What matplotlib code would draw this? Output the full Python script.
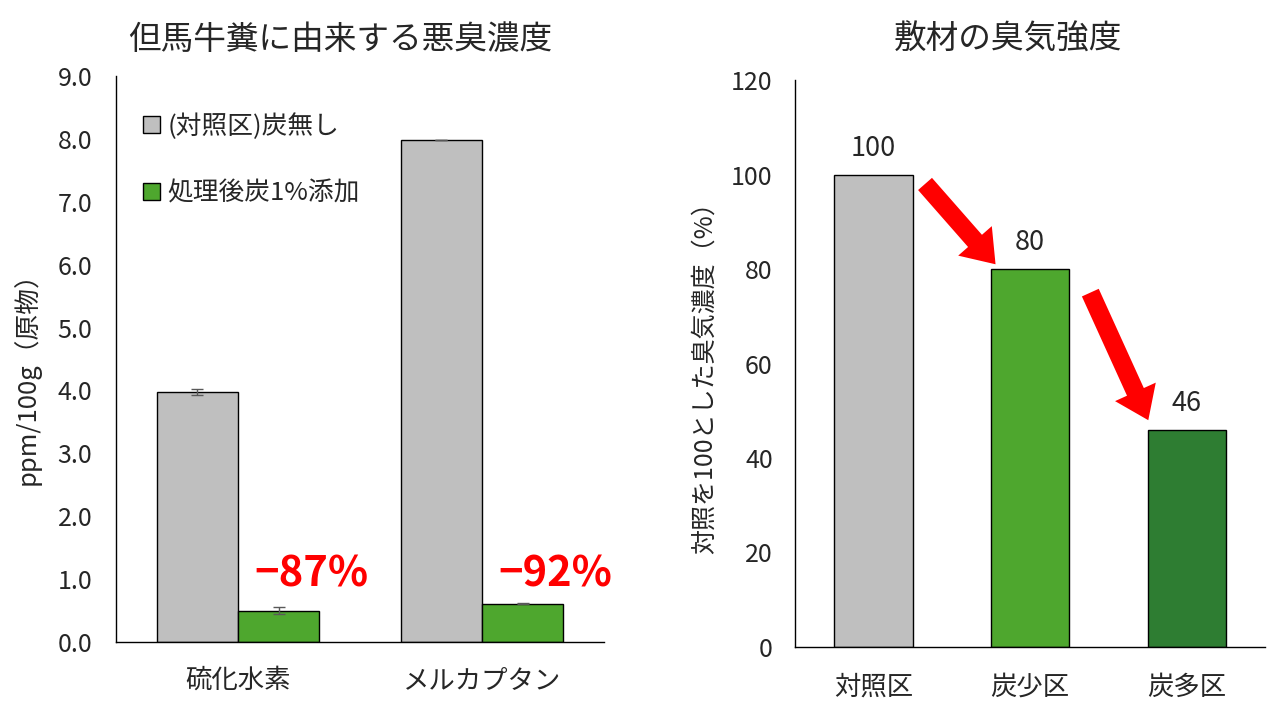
import matplotlib
matplotlib.use("Agg")
import matplotlib.pyplot as plt
from matplotlib.patches import FancyArrowPatch
import numpy as np

plt.rcParams['font.family'] = ['Noto Sans CJK JP', 'DejaVu Sans']

# ---- data: left chart ----
left_title = "但馬牛糞に由来する悪臭濃度"
left_categories = ["硫化水素", "メルカプタン"]
control_label = "(対照区)炭無し"
treated_label = "処理後炭1%添加"
control_values = [3.98, 7.98]
control_errors = [0.05, 0.005]
treated_values = [0.50, 0.61]
treated_errors = [0.05, 0.005]
reduction_labels = ["−87%", "−92%"]
left_ylabel = "ppm/100g（原物）"
left_yticks = [0, 1, 2, 3, 4, 5, 6, 7, 8, 9]

# ---- data: right chart ----
right_title = "敷材の臭気強度"
right_categories = ["対照区", "炭少区", "炭多区"]
right_values = [100, 80, 46]
right_ylabel = "対照を100とした臭気濃度（%）"
right_yticks = [0, 20, 40, 60, 80, 100, 120]

gray = "#BFBFBF"
green = "#4EA72E"
dark_green = "#2E7D32"
red = "#FF0000"
text_col = "#262626"

fig = plt.figure(figsize=(12.8, 7.2), dpi=100)

# ---------------- left axes ----------------
ax1 = fig.add_axes([116/1280, 1-642/720, (604-116)/1280, (642-76)/720])
x = np.arange(len(left_categories))
w = 1/3
ekw = dict(ecolor="#595959", elinewidth=1, capsize=4, capthick=1)
ax1.bar(x - w/2, control_values, w, color=gray, edgecolor="black", linewidth=1,
        yerr=control_errors, error_kw=ekw, label=control_label)
ax1.bar(x + w/2, treated_values, w, color=green, edgecolor="black", linewidth=1,
        yerr=treated_errors, error_kw=ekw, label=treated_label)
ax1.set_xlim(-0.5, len(left_categories) - 0.5)
ax1.set_ylim(0, 9)
ax1.set_yticks(left_yticks)
ax1.set_yticklabels([f"{v:.1f}" for v in left_yticks])
ax1.set_xticks(x)
ax1.set_xticklabels(left_categories)
ax1.tick_params(axis='y', length=0, pad=17, labelsize=18, colors=text_col)
ax1.tick_params(axis='x', length=0, pad=18, labelsize=19, colors=text_col)
for s in ["top", "right"]:
    ax1.spines[s].set_visible(False)
for s in ["left", "bottom"]:
    ax1.spines[s].set_color("black")
    ax1.spines[s].set_linewidth(1)
ax1.set_ylabel(left_ylabel, fontsize=18.5, color=text_col)
ax1.yaxis.set_label_coords(-0.155, 0.477)
for i, lab in enumerate(reduction_labels):
    ax1.text(x[i] + 0.30, 1.07, lab, color=red, fontsize=30, fontweight="bold",
             ha="center", va="center")
leg = ax1.legend(loc="upper left", bbox_to_anchor=(0.035, 0.953), frameon=False,
                 fontsize=18.5, handlelength=0.65, handleheight=0.65, handletextpad=0.3,
                 labelspacing=1.6, borderaxespad=0)
for t in leg.get_texts():
    t.set_color(text_col)

fig.text(340/1280, 1-40/720, left_title, fontsize=23.5, ha="center", va="center", color=text_col)

# ---------------- right axes ----------------
ax2 = fig.add_axes([795/1280, 1-647/720, (1265-795)/1280, (647-80)/720])
xr = np.arange(len(right_categories))
colors_r = [gray, green, dark_green]
ax2.bar(xr, right_values, 0.5, color=colors_r, edgecolor="black", linewidth=1)
ax2.set_xlim(-0.5, len(right_categories) - 0.5)
ax2.set_ylim(0, 120)
ax2.set_yticks(right_yticks)
ax2.set_xticks(xr)
ax2.set_xticklabels(right_categories)
ax2.tick_params(axis='y', length=0, pad=16, labelsize=18, colors=text_col)
ax2.tick_params(axis='x', length=0, pad=19, labelsize=19, colors=text_col)
for s in ["top", "right"]:
    ax2.spines[s].set_visible(False)
for s in ["left", "bottom"]:
    ax2.spines[s].set_color("black")
    ax2.spines[s].set_linewidth(1)
ax2.set_ylabel(right_ylabel, fontsize=18, color=text_col)
ax2.yaxis.set_label_coords(-0.165, 0.485)
for xi, v in zip(xr, right_values):
    ax2.annotate(f"{v}", (xi, v), xytext=(0, 9), textcoords="offset points",
                 ha="center", va="bottom", fontsize=19.5, color=text_col)

# arrows between bars
starts = [(xr[0] + 0.33, right_values[0] - 2), (xr[1] + 0.385, right_values[1] - 5)]
ends = [(xr[1] - 0.22, right_values[1] + 1), (xr[2] - 0.245, right_values[2] + 2)]
for s, e in zip(starts, ends):
    arr = FancyArrowPatch(s, e, arrowstyle="simple,head_width=2.3,head_length=1.6,tail_width=0.95",
                          mutation_scale=14, color=red, linewidth=0, shrinkA=0, shrinkB=0)
    ax2.add_patch(arr)

fig.text(1008/1280, 1-40/720, right_title, fontsize=23.5, ha="center", va="center", color=text_col)

fig.savefig("out.png", dpi=100, facecolor="white")
